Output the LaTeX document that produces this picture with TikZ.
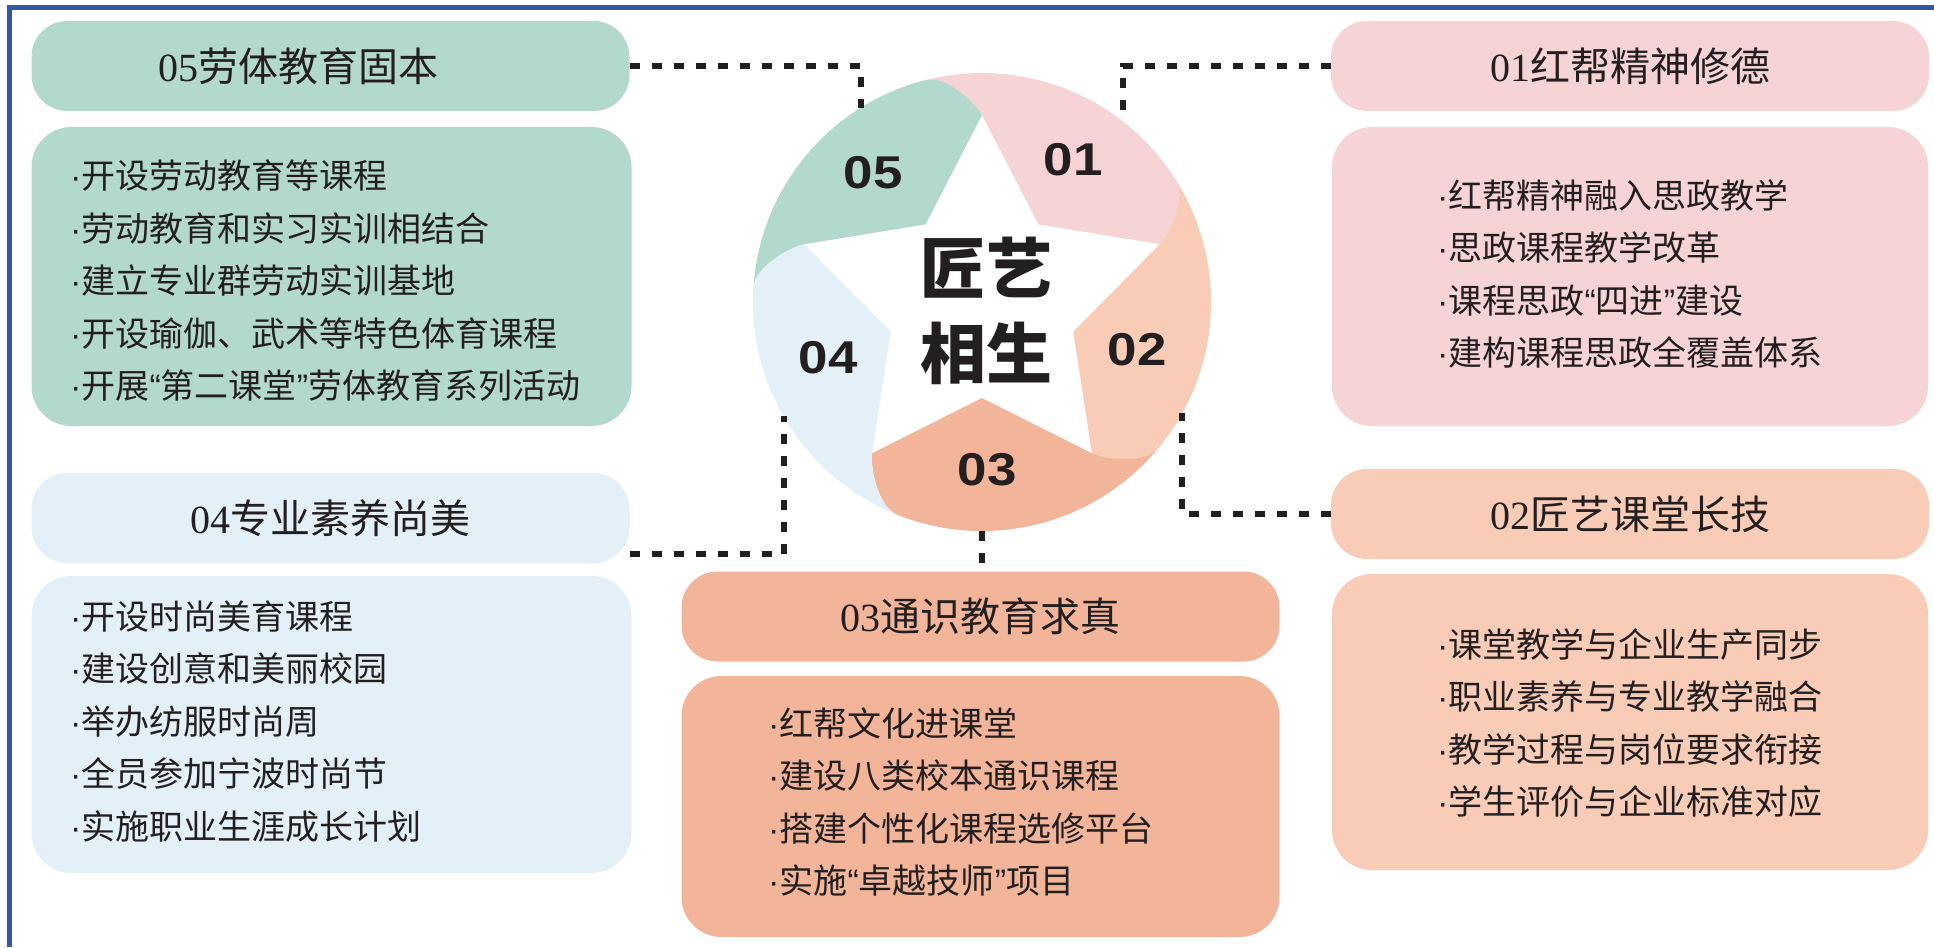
\documentclass[tikz,border=0pt]{standalone}
\usepackage{fontspec}
\newfontfamily\cjk{Noto Sans CJK SC}
\newfontfamily\lat{Liberation Sans}
\newfontfamily\ser{Liberation Serif}
\definecolor{ink}{HTML}{231F20}
\definecolor{frameblue}{HTML}{3357A0}
\definecolor{cteal}{HTML}{B3D8CD}
\definecolor{cpink}{HTML}{F6D4D6}
\definecolor{cpeach}{HTML}{F8CCB6}
\definecolor{csalmon}{HTML}{F3B59A}
\definecolor{cblue}{HTML}{E4F0F8}
\newcommand{\mydot}{{\lat ·}}
\newcommand{\myoq}{{\lat “}}
\newcommand{\mycq}{{\lat ”}}
\begin{document}
\begin{tikzpicture}[x=1pt,y=1pt,
  ttl/.style={rounded corners=36pt, minimum width=598pt, minimum height=90pt, inner sep=0pt, font=\fontsize{40}{48}\selectfont\cjk, text=ink},
  cbox/.style={rounded corners=40pt, minimum width=600pt, inner sep=0pt},
  ctext/.style={anchor=west, align=left, inner sep=0pt, font=\fontsize{34}{52.5}\selectfont\cjk, text=ink},
  conn/.style={draw=ink, line width=6pt, dash pattern=on 10pt off 12pt},
  num/.style={font=\fontsize{46}{46}\selectfont\lat\bfseries, text=ink, xscale=1.15, inner sep=0pt}
]
\useasboundingbox (0,0) rectangle (1934,-947);
\fill[white] (0,0) rectangle (1934,-947);
\draw[frameblue, line width=5pt] (9,-947) -- (9,-8) -- (1934,-8);

% ring sectors
\begin{scope}[shift={(982,-302)}]
\fill[cpink] (90:187) -- (54:96) -- (18:187) .. controls (20:200) and (27:229) .. (32:229)
  arc[start angle=32, end angle=104, radius=229] .. controls (99:229) and (92:200) .. (90:187) -- cycle;
\fill[cpeach] (18:187) -- (-18:96) -- (-54:187) .. controls (-52:200) and (-45:229) .. (-40:229)
  arc[start angle=-40, end angle=32, radius=229] .. controls (27:229) and (20:200) .. (18:187) -- cycle;
\fill[csalmon] (-54:187) -- (-90:96) -- (-126:187) .. controls (-124:200) and (-117:229) .. (-112:229)
  arc[start angle=-112, end angle=-40, radius=229] .. controls (-45:229) and (-52:200) .. (-54:187) -- cycle;
\fill[cblue] (-126:187) -- (-162:96) -- (-198:187) .. controls (-196:200) and (-189:229) .. (-184:229)
  arc[start angle=-184, end angle=-112, radius=229] .. controls (-117:229) and (-124:200) .. (-126:187) -- cycle;
\fill[cteal] (162:187) -- (126:96) -- (90:187) .. controls (92:200) and (99:229) .. (104:229)
  arc[start angle=104, end angle=176, radius=229] .. controls (171:229) and (164:200) .. (162:187) -- cycle;
\end{scope}
\node[circle, minimum size=458pt, inner sep=0pt, outer sep=0pt] (ring) at (982,-302) {};

\node[num] (n05) at (873,-173) {05};
\node[num] (n01) at (1073,-160) {01};
\node[num] (n02) at (1137,-350) {02};
\node[num] (n03) at (987,-470) {03};
\node[num] (n04) at (828,-358) {04};
\node[font=\fontsize{66}{85}\selectfont\cjk\bfseries, text=ink, align=center, inner sep=0pt] (ctr) at (986,-311) {匠艺\\相生};

% title boxes
\node[ttl, fill=cteal] (t05) at (330.5,-66) {{\ser 05}劳体教育固本\hspace*{64pt}};
\node[ttl, fill=cpink] (t01) at (1630,-66) {{\ser 01}红帮精神修德};
\node[ttl, fill=cpeach] (t02) at (1630,-514) {{\ser 02}匠艺课堂长技};
\node[ttl, fill=csalmon] (t03) at (980.5,-616.5) {{\ser 03}通识教育求真};
\node[ttl, fill=cblue] (t04) at (330.5,-518) {{\ser 04}专业素养尚美};

% content boxes
\node[cbox, fill=cteal, minimum height=299pt] (c05) at (331.5,-276.5) {};
\node[cbox, fill=cblue, minimum height=297pt] (c04) at (331.5,-724.5) {};
\node[cbox, fill=csalmon, minimum width=598pt, minimum height=261pt] (c03) at (980.5,-806.5) {};
\node[cbox, fill=cpink, minimum width=596pt, minimum height=299pt] (c01) at (1630,-276.5) {};
\node[cbox, fill=cpeach, minimum width=596pt, minimum height=296pt] (c02) at (1630,-722) {};

\node[ctext] (x05) at (70,-281) {\mydot 开设劳动教育等课程\\\mydot 劳动教育和实习实训相结合\\\mydot 建立专业群劳动实训基地\\\mydot 开设瑜伽、武术等特色体育课程\\\mydot 开展\myoq 第二课堂\mycq 劳体教育系列活动};
\node[ctext] (x04) at (70,-721.5) {\mydot 开设时尚美育课程\\\mydot 建设创意和美丽校园\\\mydot 举办纺服时尚周\\\mydot 全员参加宁波时尚节\\\mydot 实施职业生涯成长计划};
\node[ctext] (x03) at (768,-802) {\mydot 红帮文化进课堂\\\mydot 建设八类校本通识课程\\\mydot 搭建个性化课程选修平台\\\mydot 实施\myoq 卓越技师\mycq 项目};
\node[ctext] (x01) at (1437,-274) {\mydot 红帮精神融入思政教学\\\mydot 思政课程教学改革\\\mydot 课程思政\myoq 四进\mycq 建设\\\mydot 建构课程思政全覆盖体系};
\node[ctext] (x02) at (1437,-723) {\mydot 课堂教学与企业生产同步\\\mydot 职业素养与专业教学融合\\\mydot 教学过程与岗位要求衔接\\\mydot 学生评价与企业标准对应};

% connectors
\draw[conn] (t05.east) -| (ring.122);
\draw[conn] (t01.west) -| (ring.52);
\draw[conn] (t02.west) -| (ring.-29);
\draw[conn] ([yshift=-36pt]t04.east) -| (ring.210);
\draw[conn] (ring.south) -- (ring.south |- t03.north);
\end{tikzpicture}
\end{document}
